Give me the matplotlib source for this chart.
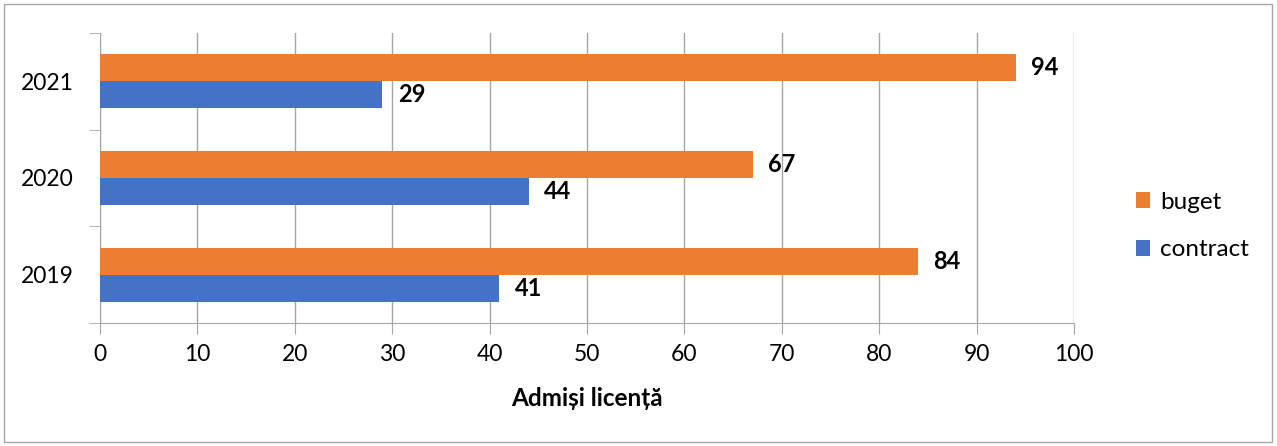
import numpy as np
import matplotlib
matplotlib.use("Agg")
import matplotlib.pyplot as plt
from matplotlib.patches import Rectangle

plt.rcParams['font.family'] = ['Lato', 'DejaVu Sans']

# date
years = ["2019", "2020", "2021"]
buget = [84, 67, 94]
contract = [41, 44, 29]

orange = "#ED7D31"
blue = "#4472C4"
grid_col = "#A6A6A6"

fig = plt.figure(figsize=(12.77, 4.46), dpi=100)
ax = fig.add_axes([100 / 1277, 123 / 446, 974 / 1277, 290 / 446])

y = np.arange(len(years))
h = 0.28
b1 = ax.barh(y + h / 2, buget, height=h, color=orange, label="buget", zorder=3)
b2 = ax.barh(y - h / 2, contract, height=h, color=blue, label="contract", zorder=3)

for bars in (b1, b2):
    for bar in bars:
        w = bar.get_width()
        ax.annotate(str(int(w)), (w, bar.get_y() + bar.get_height() / 2),
                    xytext=(11, 0), textcoords="offset points",
                    ha="left", va="center", fontsize=17, fontweight="bold")

ax.set_xlim(0, 100)
ax.set_ylim(-0.5, len(years) - 0.5)
ax.set_xticks(np.arange(0, 101, 10))
ax.set_yticks(y)
ax.set_yticklabels(years)
ax.set_yticks(np.arange(-0.5, len(years), 1), minor=True)
ax.tick_params(axis="y", which="major", length=0, labelsize=16.5, pad=19)
ax.tick_params(axis="y", which="minor", length=8, color=grid_col)
ax.tick_params(axis="x", length=8, color=grid_col, labelsize=16.5, pad=7)
ax.grid(axis="x", color=grid_col, linewidth=1, zorder=0)

for s in ["top", "right"]:
    ax.spines[s].set_visible(False)
ax.spines["left"].set_color(grid_col)
ax.spines["bottom"].set_color(grid_col)

ax.set_xlabel("Admiși licență", fontsize=17.5, fontweight="bold", labelpad=16)

handles = [b1, b2]
fig.legend(handles, ["buget", "contract"], loc="center left",
           bbox_to_anchor=(1114 / 1277, 0.493), frameon=False, fontsize=17.5,
           handlelength=0.6, handleheight=0.6, handletextpad=0.4, labelspacing=1.1)

fig.patches.append(Rectangle((4 / 1277, 4 / 446), 1268 / 1277, 438 / 446,
                             transform=fig.transFigure, fill=False,
                             edgecolor="#A6A6A6", linewidth=1))

fig.savefig("out.png", dpi=100)
